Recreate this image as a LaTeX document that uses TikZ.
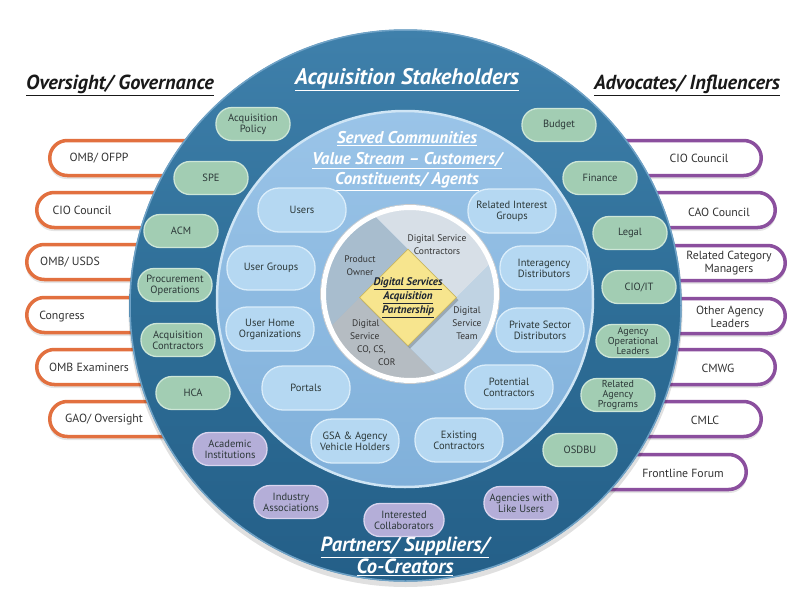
\documentclass[tikz,border=0pt]{standalone}
\usepackage{fontspec}
\setmainfont{PT Sans}
\usetikzlibrary{shapes.geometric}

% palette
\definecolor{ringmain}{HTML}{2E6E97}
\definecolor{ringtop}{HTML}{3F80AB}
\definecolor{ringbot}{HTML}{245F88}
\definecolor{ringedge}{HTML}{6FA2C6}
\definecolor{midtop}{HTML}{9AC4E8}
\definecolor{midbot}{HTML}{80B0DA}
\definecolor{midedge}{HTML}{CFE5F5}
\definecolor{pillblue}{HTML}{B5D8F2}
\definecolor{pillblueedge}{HTML}{DAEDFA}
\definecolor{pillgreen}{HTML}{A2CDB3}
\definecolor{pillgreenedge}{HTML}{CDE6D7}
\definecolor{pillpurple}{HTML}{B4AED8}
\definecolor{pillpurpleedge}{HTML}{DAD5EF}
\definecolor{govorange}{HTML}{E2703F}
\definecolor{advpurple}{HTML}{8B4F9E}
\definecolor{pilltext}{HTML}{2C3838}
\definecolor{boxtext}{HTML}{333333}
\definecolor{secPO}{HTML}{A8BDCE}
\definecolor{secDSC}{HTML}{D7DFE7}
\definecolor{secDST}{HTML}{C0D3E3}
\definecolor{secCO}{HTML}{B5BCC2}
\definecolor{corefill}{HTML}{F7E58E}
\definecolor{coreedge}{HTML}{C8B662}
\definecolor{coretext}{HTML}{1E2633}

\tikzset{
  pillbase/.style={rectangle, rounded corners=16pt, minimum width=74pt,
    minimum height=33pt, inner sep=1pt, align=center, text=pilltext,
    line width=1.3pt, font=\fontsize{10.5}{11}\selectfont},
  gpill/.style={pillbase, fill=pillgreen, draw=pillgreenedge},
  ppill/.style={pillbase, fill=pillpurple, draw=pillpurpleedge},
  bpill/.style={pillbase, fill=pillblue, draw=pillblueedge,
    minimum width=88pt, minimum height=44pt, rounded corners=21pt},
  tight/.style={font=\fontsize{10}{9.6}\selectfont},
  govbox/.style={draw=govorange, line width=3.5pt, fill=white, rounded corners=17.5pt},
  advbox/.style={draw=advpurple, line width=3.5pt, fill=white, rounded corners=17.5pt},
  boxshadow/.style={fill=black, opacity=0.10, rounded corners=17.5pt},
  boxlabel/.style={text=boxtext, align=center, inner sep=0pt,
    font=\fontsize{11.8}{12.5}\selectfont},
  sidehead/.style={text=black!90, inner sep=0pt,
    font=\fontsize{20.3}{22}\selectfont\bfseries\itshape},
  ringhead/.style={text=white, inner sep=0pt, align=center,
    font=\fontsize{22.5}{24}\selectfont\bfseries\itshape},
  midhead/.style={text=white, inner sep=0pt, align=center,
    font=\fontsize{17}{20.5}\selectfont\bfseries\itshape},
  seclabel/.style={text=black!80, inner sep=0pt, align=center,
    font=\fontsize{9.5}{12.8}\selectfont},
}

\begin{document}
\begin{tikzpicture}[x=1pt,y=-1pt]
\useasboundingbox (0,0) rectangle (807,600);
\fill[white] (0,0) rectangle (807,600);

% ---- side boxes (their inner ends run behind the ring) ----
\foreach \xl/\yc in {48/158, 35/210, 25/262, 25/315, 35/367, 48/419}{
  \fill[boxshadow] (\xl+1,\yc-15) rectangle (330,\yc+21);
  \draw[govbox] (\xl+1.75,\yc-17.5) rectangle (330,\yc+17.5);
}
\foreach \xr/\yc in {763/158, 777/210, 787/263, 787/316, 777/367, 763/419, 748/472}{
  \fill[boxshadow] (480,\yc-15) rectangle (\xr-1,\yc+21);
  \draw[advbox] (480,\yc-17.5) rectangle (\xr-1.75,\yc+17.5);
}

\node[boxlabel] (gov1) at (99,158) {OMB/ OFPP};
\node[boxlabel] (gov2) at (82,210) {CIO Council};
\node[boxlabel] (gov3) at (70,262) {OMB/ USDS};
\node[boxlabel] (gov4) at (62,317) {Congress};
\node[boxlabel] (gov5) at (89,367) {OMB Examiners};
\node[boxlabel] (gov6) at (104,420) {GAO/ Oversight};

\node[boxlabel] (adv1) at (699,158) {CIO Council};
\node[boxlabel] (adv2) at (719,212) {CAO Council};
\node[boxlabel] (adv3) at (729,263) {Related Category\\Managers};
\node[boxlabel] (adv4) at (730,317) {Other Agency\\Leaders};
\node[boxlabel] (adv5) at (718,368) {CMWG};
\node[boxlabel] (adv6) at (705,420) {CMLC};
\node[boxlabel] (adv7) at (683,473) {Frontline Forum};

% ---- side headings ----
\node[sidehead] (govhead) at (120,85) {\underline{Oversight/ Governance}};
\node[sidehead] (advhead) at (687,85) {\underline{Advocates/ Influencers}};

% ---- outer ring ----
\fill[black, opacity=0.12] (405.5,310) circle (277);
\shade[top color=ringtop, bottom color=ringbot, middle color=ringmain] (405.5,305.5) circle (276);
\draw[ringedge, line width=1.5pt] (405.5,305.5) circle (275.5);

% ---- middle disc ----
\shade[top color=midtop, bottom color=midbot] (405,299) circle (188);
\draw[midedge, line width=2.5pt] (405,299) circle (188);

% ---- ring headings ----
\node[ringhead] (ringtitle) at (407,80) {\underline{Acquisition Stakeholders}};
\node[midhead] (midtitle) at (407,161) {\underline{Served Communities}\\
  \underline{Value Stream – Customers/}\\ \underline{Constituents/ Agents}};
\node[ringhead, font=\fontsize{20.5}{19}\selectfont\bfseries\itshape] (partners) at (405,556)
  {\underline{Partners/ Suppliers/}\\ \underline{Co-Creators}};

% ---- outer ring: green and purple pills ----
\node[gpill] (acqpol) at (253,124) {Acquisition\\Policy};
\node[gpill] (spe) at (211,178) {SPE};
\node[gpill] (acm) at (181,231) {ACM};
\node[gpill] (procops) at (175,285) {Procurement\\Operations};
\node[gpill] (acqcon) at (178,340) {Acquisition\\Contractors};
\node[gpill] (hca) at (193,393) {HCA};

\node[ppill] (academic) at (230,449) {Academic\\Institutions};
\node[ppill] (industry) at (291,502) {Industry\\Associations};
\node[ppill, minimum width=80pt] (collab) at (404,520) {Interested\\Collaborators};
\node[ppill] (likeusers) at (521,503) {Agencies with\\Like Users};

\node[gpill] (budget) at (559,125) {Budget};
\node[gpill] (finance) at (600,178) {Finance};
\node[gpill] (legal) at (630,233) {Legal};
\node[gpill] (cioit) at (639,287) {CIO/IT};
\node[gpill, tight] (agencyops) at (633,341) {Agency\\Operational\\Leaders};
\node[gpill, tight] (relprog) at (618,395) {Related\\Agency\\Programs};
\node[gpill] (osdbu) at (580,450) {OSDBU};

% ---- middle disc: blue pills ----
\node[bpill] (users) at (302,210) {Users};
\node[bpill] (usergroups) at (271,268) {User Groups};
\node[bpill] (userhome) at (270,329) {User Home\\Organizations};
\node[bpill] (portals) at (306,388) {Portals};
\node[bpill] (gsa) at (355,441) {GSA \& Agency\\Vehicle Holders};
\node[bpill] (existing) at (459,440) {Existing\\Contractors};
\node[bpill] (potential) at (509,387) {Potential\\Contractors};
\node[bpill] (private) at (540,330) {Private Sector\\Distributors};
\node[bpill] (interagency) at (544,268) {Interagency\\Distributors};
\node[bpill] (relinterest) at (512,211) {Related Interest\\Groups};

% ---- core disc: four sectors around the diamond ----
\begin{scope}
  \clip (410,294) circle (86.5);
  \fill[secPO]  (408,249) -- (208,49) -- (59,297.5) -- (159.5,497.5) -- (359.5,297.5) -- cycle;
  \fill[secDSC] (408,249) -- (208,49) -- (408,-100) -- (656.5,97.5) -- (456.5,297.5) -- cycle;
  \fill[secDST] (456.5,297.5) -- (656.5,97.5) -- (800,297.5) -- (608,546) -- (408,346) -- cycle;
  \fill[secCO]  (408,346) -- (608,546) -- (408,700) -- (159.5,497.5) -- (359.5,297.5) -- cycle;
\end{scope}
\draw[black!20, line width=0.8pt] (410,294) circle (89.5);
\draw[white, line width=5pt] (410,294) circle (86.5);

\node[seclabel] (dscon) at (437,245) {Digital Service\\Contractors};
\node[seclabel] (owner) at (360,266) {Product\\Owner};
\node[seclabel] (dsteam) at (467,323) {Digital\\Service\\Team};
\node[seclabel, align=left, anchor=north west] (dsco) at (350,320)
  {\hspace*{2pt}Digital\\Service\\\hspace*{7pt}CO, CS,\\\hspace*{28pt}COR};

% ---- core diamond ----
\fill[black, opacity=0.2] (410,251.5) -- (458.5,300) -- (410,348.5) -- (361.5,300) -- cycle;
\node[diamond, aspect=1, minimum size=97pt, inner sep=0pt, fill=corefill,
      draw=coreedge, line width=0.8pt] (core) at (408,297.5) {};
\node[text=coretext, align=center, inner sep=0pt,
      font=\fontsize{11}{14}\selectfont\bfseries\itshape] (corelabel) at (core.center)
  {\underline{Digital Services}\\ \underline{Acquisition}\\ \underline{Partnership}};

\end{tikzpicture}
\end{document}
